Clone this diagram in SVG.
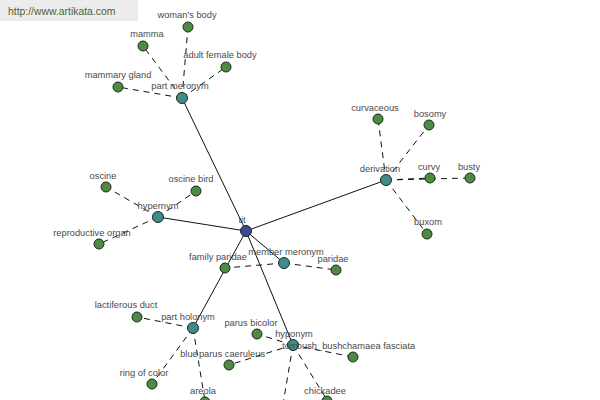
<svg xmlns="http://www.w3.org/2000/svg" width="600" height="400" viewBox="0 0 600 400">
<style>
text{font-family:"Liberation Sans",Arial,sans-serif;font-size:9.3px;fill:#4a4a4a;text-anchor:middle}
.s{stroke:#111;stroke-width:1;fill:none}
.d{stroke:#111;stroke-width:1;fill:none;stroke-dasharray:6,5}
.g{fill:#4f8a42;stroke:#1e2a1e;stroke-width:1}
.t{fill:#3f8b8b;stroke:#1e2a2a;stroke-width:1}
.r{fill:#3d4a8e;stroke:#1a1f3a;stroke-width:1}
</style>
<rect width="600" height="400" fill="#fff"/>
<g id="header">
<rect x="0" y="0" width="138" height="21" fill="#ececec"/>
<text x="8" y="15" style="text-anchor:start;font-size:10.4px;fill:#52602f">http://www.artikata.com</text>
</g>
<g id="connectors">
<line class="s" x1="246" y1="231" x2="182" y2="98"/>
<line class="s" x1="246" y1="231" x2="386" y2="180"/>
<line class="s" x1="246" y1="231" x2="158" y2="217"/>
<line class="s" x1="246" y1="231" x2="284" y2="263"/>
<line class="s" x1="246" y1="231" x2="193" y2="328"/>
<line class="s" x1="246" y1="231" x2="293" y2="345"/>
<line class="d" x1="182" y1="98" x2="188" y2="27"/>
<line class="d" x1="182" y1="98" x2="143" y2="46"/>
<line class="d" x1="182" y1="98" x2="226" y2="67"/>
<line class="d" x1="182" y1="98" x2="118" y2="87"/>
<line class="d" x1="386" y1="180" x2="378" y2="119"/>
<line class="d" x1="386" y1="180" x2="429" y2="125"/>
<line class="d" x1="386" y1="180" x2="430" y2="178"/>
<line class="d" x1="386" y1="180" x2="470" y2="178"/>
<line class="d" x1="386" y1="180" x2="427" y2="234"/>
<line class="d" x1="158" y1="217" x2="106" y2="187"/>
<line class="d" x1="158" y1="217" x2="196" y2="191"/>
<line class="d" x1="158" y1="217" x2="99" y2="244"/>
<line class="d" x1="284" y1="263" x2="225" y2="268"/>
<line class="d" x1="284" y1="263" x2="336" y2="270"/>
<line class="d" x1="193" y1="328" x2="137" y2="317"/>
<line class="d" x1="193" y1="328" x2="152" y2="384"/>
<line class="d" x1="193" y1="328" x2="205" y2="401"/>
<line class="d" x1="293" y1="345" x2="257" y2="334"/>
<line class="d" x1="293" y1="345" x2="229" y2="365"/>
<line class="d" x1="293" y1="345" x2="353" y2="357"/>
<line class="d" x1="293" y1="345" x2="327" y2="400"/>
<line class="d" x1="293" y1="345" x2="282" y2="410"/>
</g>
<g id="n-tit"><circle class="r" cx="246" cy="231" r="5.5"/><text x="242" y="223">tit</text></g>
<g id="n-part-meronym"><circle class="t" cx="182" cy="98" r="5.5"/><text x="180" y="89">part meronym</text></g>
<g id="n-womans-body"><circle class="g" cx="188" cy="27" r="5"/><text x="187" y="18">woman's body</text></g>
<g id="n-mamma"><circle class="g" cx="143" cy="46" r="5"/><text x="147" y="37">mamma</text></g>
<g id="n-adult-female-body"><circle class="g" cx="226" cy="67" r="5"/><text x="220" y="58">adult female body</text></g>
<g id="n-mammary-gland"><circle class="g" cx="118" cy="87" r="5"/><text x="118" y="78">mammary gland</text></g>
<g id="n-derivation"><circle class="t" cx="386" cy="180" r="5.5"/><text x="380" y="172">derivation</text></g>
<g id="n-curvaceous"><circle class="g" cx="378" cy="119" r="5"/><text x="375" y="111">curvaceous</text></g>
<g id="n-bosomy"><circle class="g" cx="429" cy="125" r="5"/><text x="430" y="117">bosomy</text></g>
<g id="n-curvy"><circle class="g" cx="430" cy="178" r="5"/><text x="429" y="170">curvy</text></g>
<g id="n-busty"><circle class="g" cx="470" cy="178" r="5"/><text x="469" y="170">busty</text></g>
<g id="n-buxom"><circle class="g" cx="427" cy="234" r="5"/><text x="428" y="225">buxom</text></g>
<g id="n-hypernym"><circle class="t" cx="158" cy="217" r="5.5"/><text x="158" y="209">hypernym</text></g>
<g id="n-oscine"><circle class="g" cx="106" cy="187" r="5"/><text x="103" y="179">oscine</text></g>
<g id="n-oscine-bird"><circle class="g" cx="196" cy="191" r="5"/><text x="191" y="182">oscine bird</text></g>
<g id="n-reproductive-organ"><circle class="g" cx="99" cy="244" r="5"/><text x="92" y="236">reproductive organ</text></g>
<g id="n-family-paridae"><circle class="g" cx="225" cy="268" r="5"/><text x="218" y="260">family paridae</text></g>
<g id="n-member-meronym"><circle class="t" cx="284" cy="263" r="5.5"/><text x="286" y="255">member meronym</text></g>
<g id="n-paridae"><circle class="g" cx="336" cy="270" r="5"/><text x="333" y="262">paridae</text></g>
<g id="n-part-holonym"><circle class="t" cx="193" cy="328" r="5.5"/><text x="188" y="320">part holonym</text></g>
<g id="n-lactiferous-duct"><circle class="g" cx="137" cy="317" r="5"/><text x="126" y="308">lactiferous duct</text></g>
<g id="n-ring-of-color"><circle class="g" cx="152" cy="384" r="5"/><text x="144" y="376">ring of color</text></g>
<g id="n-areola"><circle class="g" cx="205" cy="402" r="5"/><text x="203" y="394">areola</text></g>
<g id="n-hyponym"><circle class="t" cx="293" cy="345" r="5.5"/><text x="294" y="337">hyponym</text></g>
<g id="n-parus-bicolor"><circle class="g" cx="257" cy="334" r="5"/><text x="251" y="326">parus bicolor</text></g>
<g id="n-parus-caeruleus"><circle class="g" cx="229" cy="365" r="5"/><text x="189" y="357">blue</text><text x="232" y="357">parus caeruleus</text></g>
<g id="n-chamaea-fasciata"><circle class="g" cx="353" cy="357" r="5"/><text x="290" y="349">tom</text><text x="356" y="349">bush_bushchamaea fasciata</text></g>
<g id="n-chickadee"><circle class="g" cx="327" cy="401" r="5"/><text x="325" y="394">chickadee</text></g>
</svg>
